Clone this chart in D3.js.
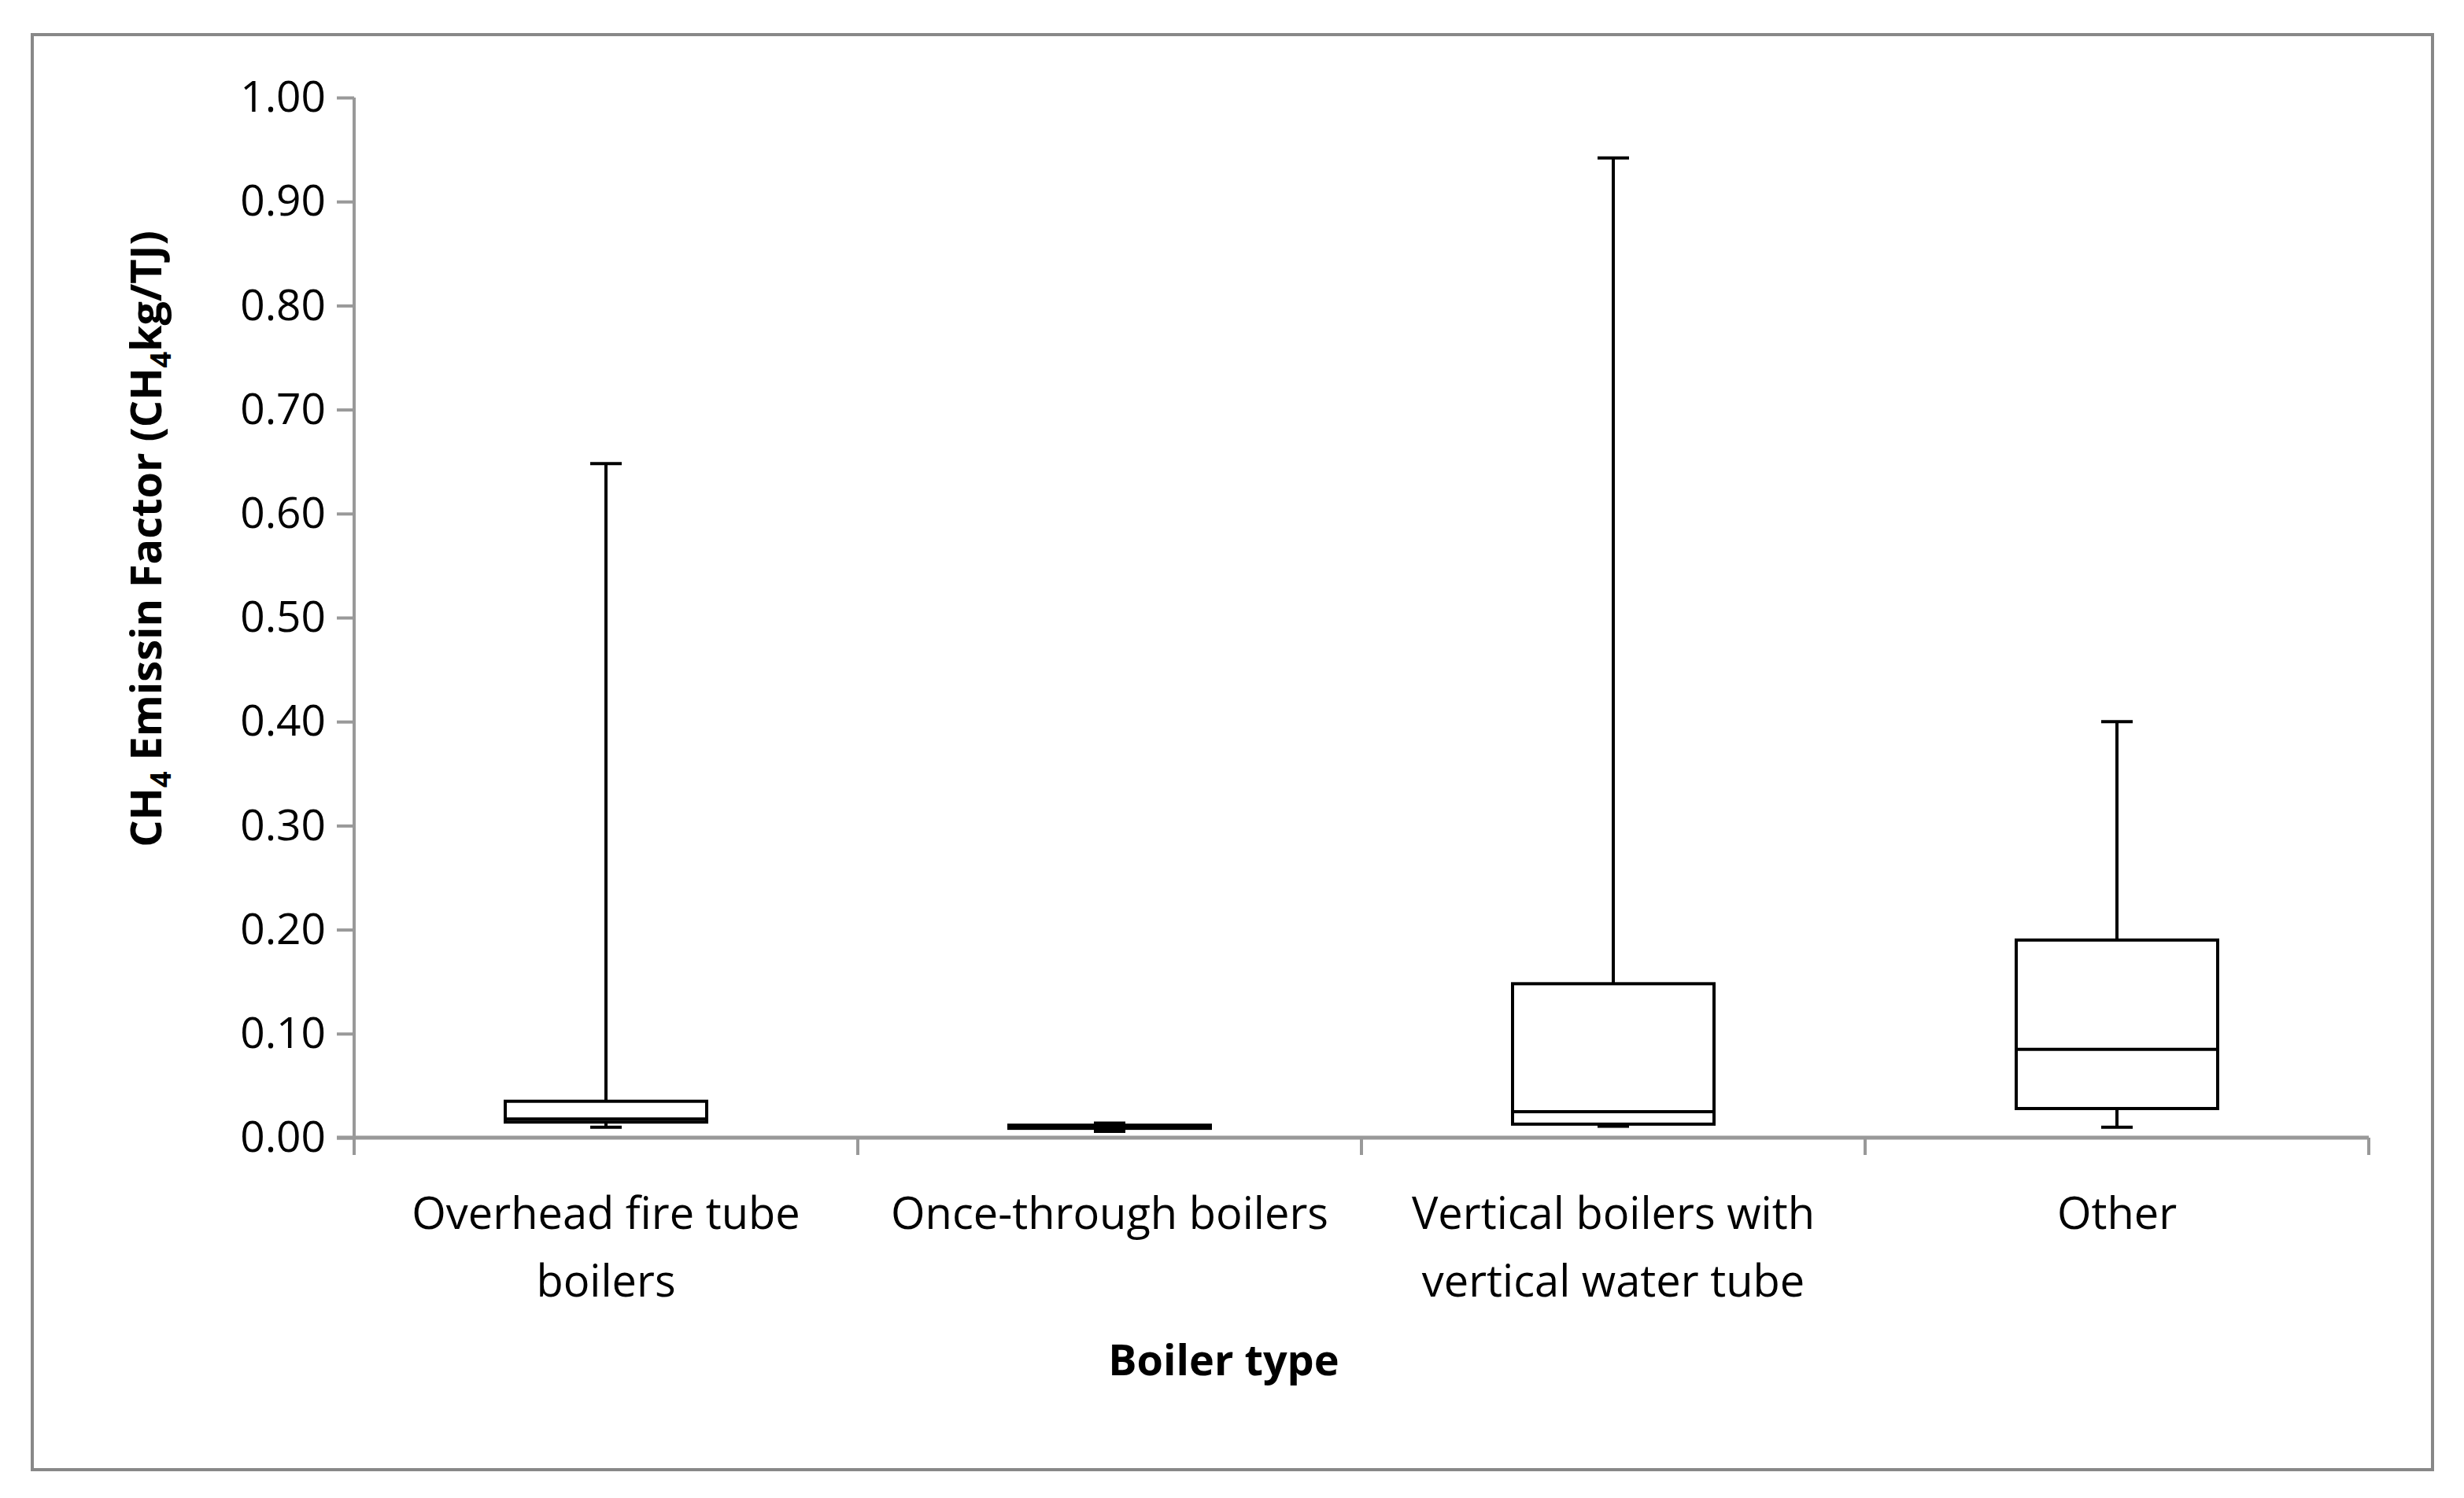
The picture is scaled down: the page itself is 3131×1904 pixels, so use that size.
<!DOCTYPE html><html><head><meta charset="utf-8"><script src="https://cdn.jsdelivr.net/npm/d3@7"></script>
<style>body{margin:0;background:#fff}</style></head><body><svg id="c" width="3131" height="1904"></svg><script>
const categories=[["Overhead fire tube","boilers"],["Once-through boilers"],["Vertical boilers with","vertical water tube"],["Other"]];
const mins=[0.010,0.006,0.011,0.010];
const q1s=[0.015,0.009,0.013,0.028];
const medians=[0.018,0.011,0.025,0.085];
const q3s=[0.035,0.012,0.148,0.190];
const maxs=[0.648,0.014,0.942,0.400];
const yTicks=[0,0.1,0.2,0.3,0.4,0.5,0.6,0.7,0.8,0.9,1.0];
const svg=d3.select("#c");
const F="'Open Sans', 'Liberation Sans', sans-serif";
svg.append("rect").attr("x",41).attr("y",44).attr("width",3050).attr("height",1824).attr("fill","#fff").attr("stroke","#888").attr("stroke-width",4);
const L=450,R=3010,T=124,B=1446;
const x=d3.scaleBand().domain(d3.range(4)).range([L,R]);
const y=d3.scaleLinear().domain([0,1]).range([B,T]);
const ya=svg.append("g").attr("transform",`translate(${L},0)`).call(d3.axisLeft(y).tickValues(yTicks).tickFormat(d3.format(".2f")).tickSize(22).tickPadding(14));
ya.selectAll("text").attr("font-family",F).attr("font-size",55).attr("fill","#000");
ya.selectAll("line,path").attr("stroke","#999").attr("stroke-width",4);
ya.select("path").attr("d",`M0,${T}V${B}`);
const xa=svg.append("g").attr("transform",`translate(0,${B})`).call(d3.axisBottom(x).tickSize(0).tickFormat(""));
xa.select("path").attr("stroke","#999").attr("stroke-width",5).attr("d",`M${L-22},0H${R}`);
svg.append("g").selectAll("line").data(d3.range(5)).join("line").attr("x1",i=>L+i*x.bandwidth()).attr("x2",i=>L+i*x.bandwidth()).attr("y1",B).attr("y2",B+22).attr("stroke","#999").attr("stroke-width",4);
categories.forEach((c,i)=>{const t=svg.append("text").attr("x",x(i)+x.bandwidth()/2).attr("y",1562).attr("text-anchor","middle").attr("font-family",F).attr("font-size",56);
 c.forEach((s,j)=>t.append("tspan").attr("x",x(i)+x.bandwidth()/2).attr("dy",j?86:0).text(s));});
svg.append("text").attr("x",1555).attr("y",1748).attr("text-anchor","middle").attr("font-family",F).attr("font-size",54).attr("font-weight","bold").text("Boiler type");
const yt=svg.append("text").attr("transform","translate(205,685) rotate(-90)").attr("text-anchor","middle").attr("font-family",F).attr("font-size",54).attr("font-weight","bold");
yt.append("tspan").text("CH");yt.append("tspan").attr("font-size",36).attr("dy",12).text("4");yt.append("tspan").attr("dy",-12).text(" Emissin Factor (CH");yt.append("tspan").attr("font-size",36).attr("dy",12).text("4");yt.append("tspan").attr("dy",-12).text("kg/TJ)");
const bw=x.bandwidth()*0.4,cap=40;
const g=svg.append("g").attr("stroke","#000").attr("stroke-width",4).attr("fill","none");
d3.range(4).forEach(i=>{const cx=x(i)+x.bandwidth()/2;
 g.append("line").attr("x1",cx).attr("x2",cx).attr("y1",y(maxs[i])).attr("y2",y(q3s[i]));
 g.append("line").attr("x1",cx).attr("x2",cx).attr("y1",y(q1s[i])).attr("y2",y(mins[i]));
 g.append("line").attr("x1",cx-cap/2).attr("x2",cx+cap/2).attr("y1",y(maxs[i])).attr("y2",y(maxs[i]));
 g.append("line").attr("x1",cx-cap/2).attr("x2",cx+cap/2).attr("y1",y(mins[i])).attr("y2",y(mins[i]));
 g.append("rect").attr("x",cx-bw/2).attr("width",bw).attr("y",y(q3s[i])).attr("height",y(q1s[i])-y(q3s[i])).attr("fill","#fff");
 g.append("line").attr("x1",cx-bw/2).attr("x2",cx+bw/2).attr("y1",y(medians[i])).attr("y2",y(medians[i]));});
</script></body></html>
